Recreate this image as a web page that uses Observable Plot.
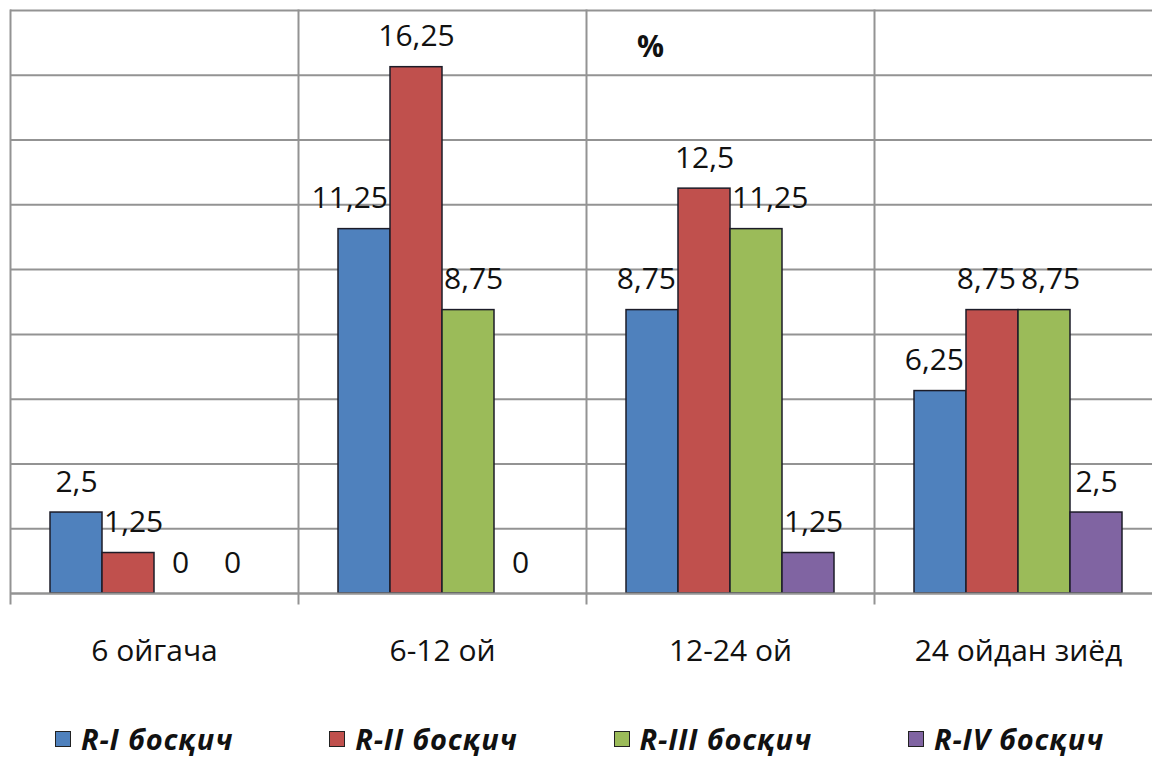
<!DOCTYPE html>
<html>
<head>
<meta charset="utf-8">
<script src="https://cdn.jsdelivr.net/npm/d3@7"></script>
<script src="https://cdn.jsdelivr.net/npm/@observablehq/plot@0.6"></script>
<style>
  body { margin: 0; background: #fff; font-family: "Open Sans", sans-serif; }
  #wrap { position: relative; width: 1152px; height: 758px; overflow: hidden; }
  #pct { position: absolute; left: 637px; top: 28px; font: bold 30px "Open Sans", sans-serif; color: #111; line-height: 1.2; }
  #legend { position: absolute; left: 55px; top: 720px; height: 38px; display: flex; align-items: center; gap: 96px; }
  .item { display: flex; align-items: center; font: italic bold 29px "Open Sans", sans-serif; letter-spacing: 0.8px; color: #111; line-height: 38px; white-space: nowrap; }
  .sw { width: 16px; height: 16px; border: 1.5px solid #222; margin-right: 10px; box-sizing: border-box; }
</style>
</head>
<body>
<div id="wrap">
  <div id="chart"></div>
  <div id="pct">%</div>
  <div id="legend"></div>
</div>
<script>
const categories = ["6 ойгача", "6-12 ой", "12-24 ой", "24 ойдан зиёд"];
const series = ["R-I босқич", "R-II босқич", "R-III босқич", "R-IV босқич"];
const rI   = [2.5, 11.25, 8.75, 6.25];
const rII  = [1.25, 16.25, 12.5, 8.75];
const rIII = [0, 8.75, 11.25, 8.75];
const rIV  = [0, 0, 1.25, 2.5];
const colors = ["#4F81BD", "#C0504D", "#9BBB59", "#8064A2"];
const yTicks = [0, 2, 4, 6, 8, 10, 12, 14, 16, 18];

const seriesValues = [rI, rII, rIII, rIV];
const data = [];
categories.forEach((c, ci) => {
  series.forEach((s, si) => {
    data.push({category: c, series: s, value: seriesValues[si][ci]});
  });
});
const fmt = v => String(v).replace(".", ",");
const grid = "#939393";

const chart = Plot.plot({
  width: 1152,
  height: 690,
  marginTop: 10,
  marginBottom: 97,
  marginLeft: 10,
  marginRight: 0,
  style: {fontFamily: "Open Sans, sans-serif", background: "#fff"},
  fx: {domain: categories, range: [10, 1162], padding: 0, label: null},
  x: {domain: series, paddingInner: 0, paddingOuter: 0.763, axis: null},
  y: {domain: [0, 18], axis: null},
  color: {domain: series, range: colors},
  marks: [
    Plot.gridY(yTicks, {stroke: grid, strokeOpacity: 1, strokeWidth: 2}),
    Plot.frame({anchor: "left", stroke: grid, strokeWidth: 2, insetBottom: -10}),
    Plot.barY(data, {fx: "category", x: "series", y: "value", fill: "series", stroke: "#1c1c28", strokeWidth: 1.5}),
    Plot.ruleY([0], {stroke: grid, strokeWidth: 2}),
    Plot.text(data, {fx: "category", x: "series", y: "value", text: d => fmt(d.value), lineAnchor: "bottom", dy: -21, fontSize: 30, fill: "#111"}),
    Plot.axisFx({anchor: "bottom", tickSize: 0, tickPadding: 46, fontSize: 30, label: null, fill: "#111"})
  ]
});
document.getElementById("chart").appendChild(chart);

// Excel-like label placement: keep value labels clear of neighbouring bars and of each other
const labels = Array.from(chart.querySelectorAll('g[aria-label="text"] text')).map(t => {
  const r = t.getBoundingClientRect();
  return {t, x1: r.left, x2: r.right, y1: r.top + 6, y2: r.bottom - 6, shift: 0};
});
const bars = Array.from(chart.querySelectorAll('g[aria-label="bar"] rect')).map(r => {
  const b = r.getBoundingClientRect();
  return {x1: b.left, x2: b.right, y1: b.top, y2: b.bottom};
}).filter(b => b.y2 - b.y1 > 1);
const ov = (a1, a2, b1, b2) => a1 < b2 && b1 < a2;
for (let iter = 0; iter < 6; iter++) {
  labels.forEach(l => {
    bars.forEach(b => {
      const lx1 = l.x1 + l.shift, lx2 = l.x2 + l.shift;
      if (ov(lx1, lx2, b.x1, b.x2) && ov(l.y1, l.y2, b.y1, b.y2)) {
        const lc = (lx1 + lx2) / 2, bc = (b.x1 + b.x2) / 2;
        if (bc < lc) l.shift += (b.x2 + 2) - lx1; else l.shift -= lx2 - (b.x1 - 2);
      }
    });
  });
  const sorted = labels.slice().sort((a, b) => (a.x1 + a.shift) - (b.x1 + b.shift));
  for (let i = 0; i < sorted.length - 1; i++) {
    const a = sorted[i], b = sorted[i + 1];
    if (!ov(a.y1, a.y2, b.y1, b.y2)) continue;
    const over = (a.x2 + a.shift + 5) - (b.x1 + b.shift);
    if (over > 0) { a.shift -= over / 2; b.shift += over / 2; }
  }
}
labels.forEach(l => { if (l.shift) l.t.setAttribute("x", l.shift); });

const legend = document.getElementById("legend");
series.forEach((s, i) => {
  const item = document.createElement("div");
  item.className = "item";
  const sw = document.createElement("span");
  sw.className = "sw";
  sw.style.background = colors[i];
  const t = document.createElement("span");
  t.textContent = s;
  item.appendChild(sw);
  item.appendChild(t);
  legend.appendChild(item);
});
</script>
</body>
</html>
